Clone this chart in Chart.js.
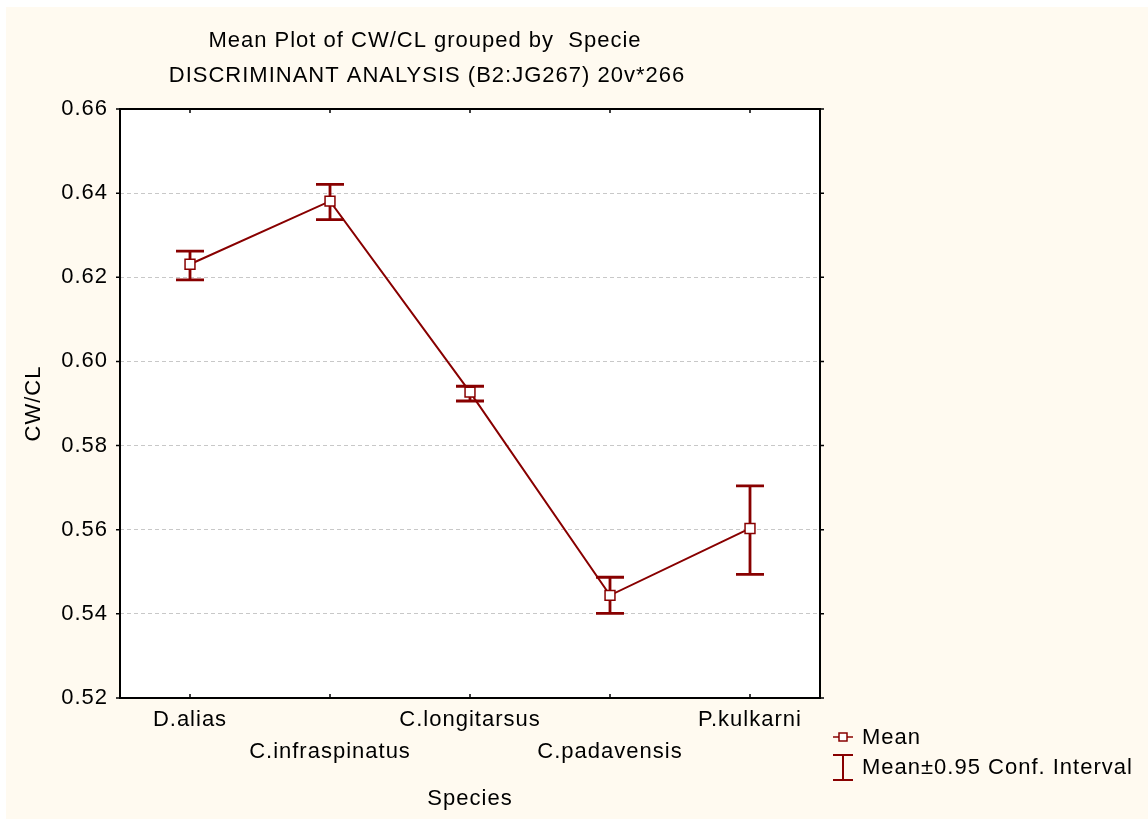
<!DOCTYPE html>
<html>
<head>
<meta charset="utf-8">
<script src="https://cdn.jsdelivr.net/npm/chart.js@4.4.1/dist/chart.umd.min.js"></script>
<style>
  body { margin: 0; background: #fff; }
  canvas { display: block; }
</style>
</head>
<body>
<canvas id="chart" width="1148" height="819"></canvas>
<script>
// data
const species = ['D.alias', 'C.infraspinatus', 'C.longitarsus', 'C.padavensis', 'P.kulkarni'];
const means = [0.6231, 0.6381, 0.5927, 0.5444, 0.5603];
const upper = [0.6262, 0.6421, 0.5941, 0.5487, 0.5704];
const lower = [0.6194, 0.6337, 0.5906, 0.5401, 0.5494];
const yMin = 0.52;
const yMax = 0.66;
const yStep = 0.02;
const titleLines = ['Mean Plot of CW/CL grouped by  Specie', 'DISCRIMINANT ANALYSIS (B2:JG267) 20v*266'];
const legendLabels = ['Mean', 'Mean\u00b10.95 Conf. Interval'];

const RED = '#880000';
const FONT = "'Liberation Sans', Arial, sans-serif";

// slightly wider text, like the original
const spacing = {
  id: 'spacing',
  beforeLayout(chart) { chart.ctx.letterSpacing = '1px'; },
  beforeDraw(chart) { chart.ctx.letterSpacing = '1px'; },
};

const background = {
  id: 'background',
  beforeDraw(chart) {
    const c = chart.ctx;
    const a = chart.chartArea;
    c.save();
    c.fillStyle = '#ffffff';
    c.fillRect(0, 0, chart.width, chart.height);
    c.fillStyle = '#fffaf0';
    c.fillRect(6, 7, chart.width - 6, chart.height - 7);
    c.fillStyle = '#ffffff';
    c.fillRect(a.left, a.top, a.right - a.left, a.bottom - a.top);
    c.restore();
  },
};

const errorBars = {
  id: 'errorBars',
  beforeDatasetsDraw(chart) {
    const c = chart.ctx;
    const x = chart.scales.x;
    const y = chart.scales.y;
    c.save();
    c.strokeStyle = RED;
    c.lineWidth = 2.8;
    species.forEach((s, i) => {
      const px = x.getPixelForValue(i);
      const yu = y.getPixelForValue(upper[i]);
      const yl = y.getPixelForValue(lower[i]);
      c.beginPath();
      c.moveTo(px, yu); c.lineTo(px, yl);
      c.moveTo(px - 14, yu); c.lineTo(px + 14, yu);
      c.moveTo(px - 14, yl); c.lineTo(px + 14, yl);
      c.stroke();
    });
    c.restore();
  },
};

const frame = {
  id: 'frame',
  afterDraw(chart) {
    const c = chart.ctx;
    const { left, right, top, bottom } = chart.chartArea;
    const x = chart.scales.x;
    const y = chart.scales.y;
    c.save();
    c.strokeStyle = '#000';
    c.lineWidth = 2;
    c.strokeRect(left, top, right - left, bottom - top);
    c.lineWidth = 1.5;
    c.beginPath();
    y.ticks.forEach(t => {
      const py = y.getPixelForValue(t.value);
      c.moveTo(left - 4, py); c.lineTo(left, py);
      c.moveTo(right, py); c.lineTo(right + 4, py);
    });
    species.forEach((s, i) => {
      const px = x.getPixelForValue(i);
      c.moveTo(px, bottom); c.lineTo(px, bottom - 4);
      c.moveTo(px, top); c.lineTo(px, top + 4);
    });
    c.stroke();

    // title
    c.fillStyle = '#000';
    c.font = '22px ' + FONT;
    c.textAlign = 'center';
    c.textBaseline = 'middle';
    c.fillText(titleLines[0], 425, 41);
    c.fillText(titleLines[1], 427, 76);

    // legend
    c.textAlign = 'left';
    c.fillText(legendLabels[0], 862, 738);
    c.fillText(legendLabels[1], 862, 768);
    c.strokeStyle = RED;
    c.lineWidth = 1.5;
    c.beginPath();
    c.moveTo(833, 737); c.lineTo(853, 737);
    c.stroke();
    c.fillStyle = '#fff';
    c.fillRect(839, 733, 8, 8);
    c.strokeRect(839, 733, 8, 8);
    c.lineWidth = 2;
    c.beginPath();
    c.moveTo(843, 755); c.lineTo(843, 780);
    c.moveTo(833, 755); c.lineTo(853, 755);
    c.moveTo(833, 780); c.lineTo(853, 780);
    c.stroke();
    c.restore();
  },
};

const config = {
  type: 'line',
  data: {
    labels: species,
    datasets: [{
      label: legendLabels[0],
      data: means,
      borderColor: RED,
      borderWidth: 2,
      pointStyle: 'rect',
      pointRadius: 7,
      pointBorderWidth: 1.5,
      pointBackgroundColor: '#ffffff',
      pointBorderColor: RED,
      tension: 0,
    }],
  },
  options: {
    responsive: false,
    animation: false,
    events: [],
    layout: { padding: { top: 109, right: 328, left: 0, bottom: 0 } },
    plugins: {
      legend: { display: false },
      title: { display: false },
      tooltip: { enabled: false },
    },
    scales: {
      x: {
        type: 'category',
        offset: true,
        grid: { display: false, drawTicks: false },
        border: { display: false },
        ticks: {
          autoSkip: false,
          maxRotation: 0,
          padding: 6,
          color: '#000',
          font: { family: FONT, size: 22, lineHeight: 1.45 },
          callback: (v, i) => (i % 2 ? ['', species[i]] : species[i]),
        },
        title: {
          display: true,
          text: 'Species',
          color: '#000',
          font: { family: FONT, size: 22 },
          padding: { top: 0, bottom: 7 },
        },
        afterFit: (s) => { s.height = 121; },
      },
      y: {
        min: yMin,
        max: yMax,
        grid: {
          color: '#c8c8c8',
          lineWidth: 1,
          drawTicks: false,
        },
        border: { display: false, dash: [4, 3] },
        ticks: {
          stepSize: yStep,
          padding: 12,
          color: '#000',
          font: { family: FONT, size: 22 },
          callback: (v) => v.toFixed(2),
        },
        title: {
          display: true,
          text: 'CW/CL',
          color: '#000',
          font: { family: FONT, size: 22 },
          padding: { top: 21, bottom: 0 },
        },
        afterFit: (s) => { s.width = 120; },
      },
    },
  },
  plugins: [spacing, background, errorBars, frame],
};

new Chart(document.getElementById('chart').getContext('2d'), config);
</script>
</body>
</html>
